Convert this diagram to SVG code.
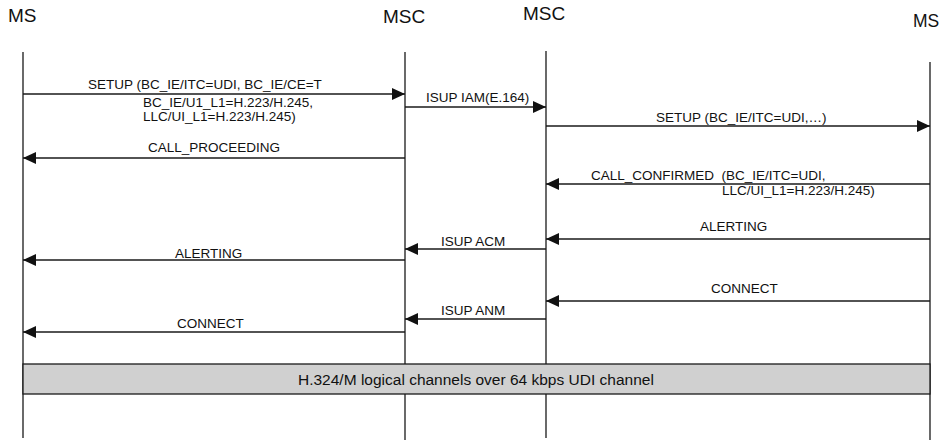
<svg xmlns="http://www.w3.org/2000/svg" width="943" height="441" viewBox="0 0 943 441">
<style>
text{font-family:"Liberation Sans",Arial,sans-serif;fill:#111}
.title{font-size:19px}
.lbl{font-size:13.5px}
.life{stroke:#1a1a1a;stroke-width:1.3;fill:none}
.msg{stroke:#1a1a1a;stroke-width:1.3;fill:none;marker-end:url(#ah)}
.band{fill:#d0d0d0;stroke:#1a1a1a;stroke-width:1.3}
</style>
<defs>
<marker id="ah" markerUnits="userSpaceOnUse" markerWidth="13" markerHeight="12" refX="13" refY="6" orient="auto">
<path d="M0,0 L13,6 L0,12 z" fill="#111"/>
</marker>
</defs>
<rect width="943" height="441" fill="#fff"/>
<g id="ms-left">
<text class="title" x="8" y="22">MS</text>
<line class="life" x1="23" y1="52" x2="23" y2="438"/>
</g>
<g id="msc-left">
<text class="title" x="383" y="23">MSC</text>
<line class="life" x1="405" y1="52" x2="405" y2="440"/>
</g>
<g id="msc-right">
<text class="title" x="523" y="20">MSC</text>
<line class="life" x1="546" y1="51" x2="546" y2="438"/>
</g>
<g id="ms-right">
<text x="913" y="27" style="font-size:17.5px">MS</text>
<line class="life" x1="930" y1="62" x2="930" y2="440"/>
</g>
<g id="h324-band">
<rect class="band" x="23" y="364" width="907" height="30"/>
<text x="298" y="385" style="font-size:15.5px">H.324/M logical channels over 64 kbps UDI channel</text>
</g>
<g id="connectors">
<line class="msg" x1="23" y1="94" x2="405" y2="94"/>
<text class="lbl" x="88" y="89">SETUP (BC_IE/ITC=UDI, BC_IE/CE=T</text>
<text class="lbl" x="143" y="107">BC_IE/U1_L1=H.223/H.245,</text>
<text class="lbl" x="143" y="121">LLC/UI_L1=H.223/H.245)</text>

<line class="msg" x1="405" y1="107" x2="546" y2="107"/>
<text class="lbl" x="426" y="102">ISUP IAM(E.164)</text>

<line class="msg" x1="546" y1="126" x2="930" y2="126"/>
<text class="lbl" x="656" y="122">SETUP (BC_IE/ITC=UDI,…)</text>

<line class="msg" x1="405" y1="158" x2="23" y2="158"/>
<text class="lbl" x="148" y="152">CALL_PROCEEDING</text>

<line class="msg" x1="930" y1="184" x2="546" y2="184"/>
<text class="lbl" x="591" y="180" style="white-space:pre">CALL_CONFIRMED  (BC_IE/ITC=UDI,</text>
<text class="lbl" x="722" y="195">LLC/UI_L1=H.223/H.245)</text>

<line class="msg" x1="930" y1="239" x2="546" y2="239"/>
<text class="lbl" x="700" y="231">ALERTING</text>

<line class="msg" x1="546" y1="249" x2="405" y2="249"/>
<text class="lbl" x="441" y="246">ISUP ACM</text>

<line class="msg" x1="405" y1="260" x2="23" y2="260"/>
<text class="lbl" x="175" y="258">ALERTING</text>

<line class="msg" x1="930" y1="301" x2="546" y2="301"/>
<text class="lbl" x="711" y="293">CONNECT</text>

<line class="msg" x1="546" y1="319" x2="405" y2="319"/>
<text class="lbl" x="441" y="315">ISUP ANM</text>

<line class="msg" x1="405" y1="332" x2="23" y2="332"/>
<text class="lbl" x="177" y="328">CONNECT</text>
</g>
</svg>
